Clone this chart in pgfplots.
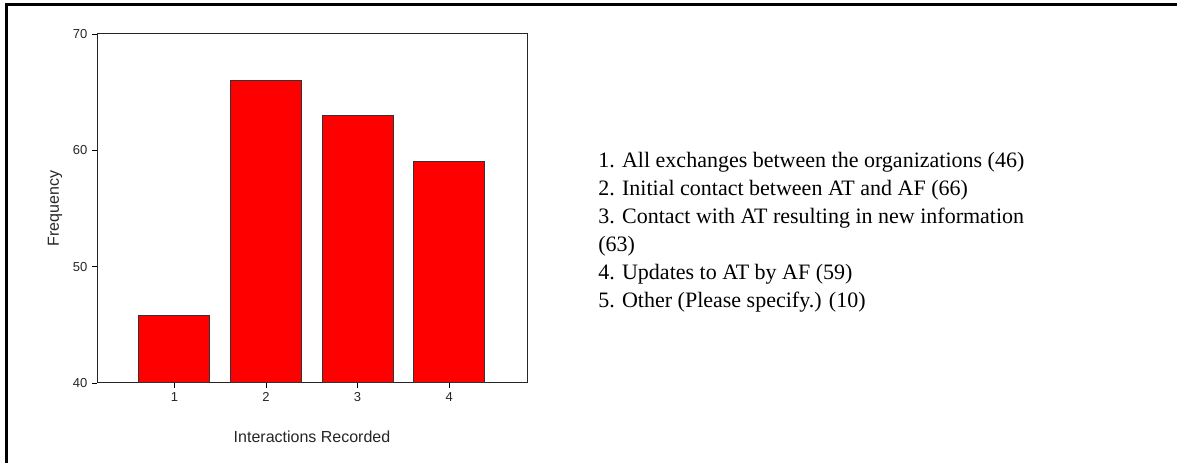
\documentclass[border=0pt]{standalone}
\usepackage{fontspec}
\setmainfont{Liberation Sans}
\newfontfamily\timesfont{Liberation Serif}
\usepackage{pgfplots}
\pgfplotsset{compat=1.18}

\begin{document}
\begin{tikzpicture}
% page size of the reference (1px = 0.75pt)
\useasboundingbox (0,0) rectangle (882.75pt,347.25pt);
% outer frame (only left and top edges visible)
\draw[line width=2.25pt] (4.5pt,0) -- (4.5pt,343.5pt) -- (882.75pt,343.5pt);

\begin{axis}[
    at={(72.75pt,60pt)},
    anchor=origin,
    scale only axis,
    width=322.5pt,
    height=261.75pt,
    xmin=0.155, xmax=4.85,
    ymin=40, ymax=70,
    xtick={1,2,3,4},
    ytick={40,50,60,70},
    tick pos=left,
    tick align=outside,
    major tick length=3.75pt,
    tick style={black, line width=0.6pt},
    axis line style={black!85, line width=0.75pt},
    /pgf/number format/assume math mode=true,
    ticklabel style={font=\fontsize{9.75}{11}\selectfont, text=black!85},
    xlabel={Interactions Recorded},
    ylabel={Frequency},
    xlabel style={font=\fontsize{12}{14}\selectfont, text=black!85,
        at={(axis description cs:0.5,-0.1547)}, anchor=center},
    ylabel style={font=\fontsize{12}{14}\selectfont, text=black!85,
        at={(axis description cs:-0.0977,0.5)}, anchor=center, rotate=0},
    ybar,
    bar width=0.774,
    clip=true,
]
\addplot[fill=red, draw=black!80, line width=0.75pt]
    coordinates {(1,45.8) (2,66) (3,63) (4,59)};
\end{axis}

% key to the categories (anchor base = baseline of the last line)
\node[anchor=base west, align=left, inner sep=0pt,
      font=\timesfont\fontsize{16.5}{21}\selectfont]
  at (448.5pt,116.25pt) {%
  1. All exchanges between the organizations (46)\\
  2. Initial contact between AT and AF (66)\\
  3. Contact with AT resulting in new information\\
  (63)\\
  4. Updates to AT by AF (59)\\
  5. Other (Please specify.) (10)};
\end{tikzpicture}
\end{document}
